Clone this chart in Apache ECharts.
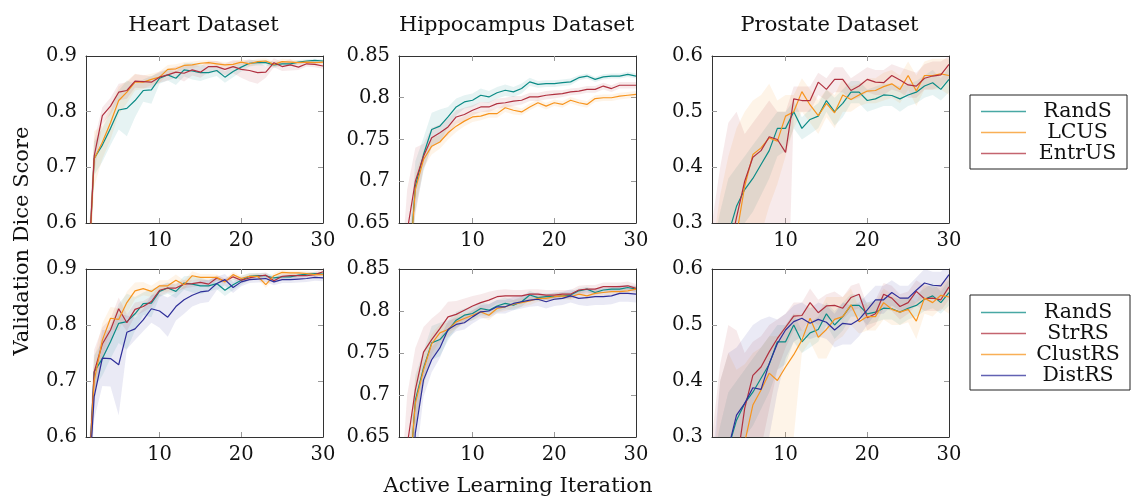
<!DOCTYPE html>
<html><head><meta charset="utf-8">
<script src="https://cdn.jsdelivr.net/npm/echarts@6/dist/echarts.min.js"></script>
<style>html,body{margin:0;padding:0;background:#fff}#c{width:1131px;height:499px}</style>
</head><body><div id="c"></div><script>
// ---------- data ----------
const ITER = [1,2,3,4,5,6,7,8,9,10,11,12,13,14,15,16,17,18,19,20,21,22,23,24,25,26,27,28,29,30];
const X_TICKS = [10, 20, 30];
const HEART_TICKS = [0.6, 0.7, 0.8, 0.9];
const HIPPO_TICKS = [0.65, 0.7, 0.75, 0.8, 0.85];
const PROST_TICKS = [0.3, 0.4, 0.5, 0.6];
const TITLES = ['Heart Dataset', 'Hippocampus Dataset', 'Prostate Dataset'];
const LEGEND_TOP = ['RandS', 'LCUS', 'EntrUS'];
const LEGEND_BOTTOM = ['RandS', 'StrRS', 'ClustRS', 'DistRS'];

// Heart
const heart_RandS = [0.43,0.716,0.74,0.77,0.803,0.806,0.82,0.838,0.839,0.86,0.866,0.86,0.875,0.873,0.87,0.87,0.874,0.862,0.872,0.88,0.887,0.888,0.888,0.884,0.886,0.886,0.889,0.891,0.892,0.891];
const heart_RandS_sd = [0.05,0.03,0.03,0.03,0.035,0.05,0.03,0.02,0.025,0.01,0.01,0.012,0.012,0.015,0.015,0.01,0.01,0.01,0.01,0.008,0.006,0.005,0.005,0.005,0.004,0.004,0.004,0.003,0.003,0.003];
const heart_LCUS = [0.42,0.715,0.745,0.78,0.82,0.835,0.853,0.853,0.858,0.862,0.876,0.877,0.883,0.884,0.887,0.888,0.886,0.884,0.885,0.889,0.886,0.89,0.891,0.885,0.89,0.889,0.888,0.889,0.888,0.889];
const heart_LCUS_sd = [0.05,0.05,0.03,0.03,0.025,0.02,0.015,0.012,0.01,0.01,0.008,0.008,0.006,0.006,0.005,0.005,0.005,0.005,0.005,0.005,0.005,0.005,0.005,0.005,0.005,0.005,0.004,0.004,0.004,0.004];
const heart_EntrUS = [0.43,0.72,0.793,0.81,0.835,0.838,0.855,0.854,0.853,0.862,0.866,0.871,0.869,0.875,0.871,0.881,0.881,0.876,0.881,0.876,0.874,0.87,0.871,0.888,0.881,0.884,0.88,0.886,0.885,0.882];
const heart_EntrUS_sd = [0.05,0.03,0.015,0.015,0.015,0.015,0.012,0.012,0.01,0.01,0.01,0.01,0.015,0.01,0.01,0.01,0.01,0.01,0.012,0.015,0.02,0.02,0.01,0.008,0.008,0.01,0.005,0.005,0.005,0.005];
const heart_StrRS = [0.43,0.716,0.766,0.791,0.829,0.804,0.828,0.833,0.842,0.862,0.866,0.866,0.873,0.874,0.876,0.873,0.884,0.878,0.886,0.88,0.884,0.887,0.889,0.879,0.887,0.888,0.888,0.888,0.89,0.895];
const heart_StrRS_sd = [0.05,0.04,0.03,0.02,0.02,0.015,0.012,0.01,0.01,0.01,0.008,0.008,0.008,0.006,0.006,0.006,0.005,0.005,0.005,0.005,0.005,0.005,0.005,0.005,0.005,0.005,0.005,0.005,0.005,0.005];
const heart_ClustRS = [0.42,0.70,0.773,0.812,0.81,0.84,0.861,0.865,0.86,0.87,0.87,0.88,0.872,0.888,0.885,0.885,0.885,0.877,0.89,0.883,0.887,0.887,0.872,0.888,0.894,0.893,0.893,0.892,0.89,0.89];
const heart_ClustRS_sd = [0.05,0.04,0.03,0.02,0.02,0.02,0.015,0.012,0.01,0.01,0.01,0.01,0.008,0.008,0.006,0.006,0.005,0.005,0.005,0.005,0.005,0.005,0.006,0.005,0.004,0.004,0.004,0.004,0.004,0.004];
const heart_DistRS = [0.43,0.672,0.741,0.74,0.729,0.787,0.793,0.809,0.829,0.825,0.814,0.833,0.845,0.853,0.859,0.861,0.874,0.881,0.867,0.877,0.881,0.882,0.883,0.877,0.881,0.881,0.882,0.883,0.885,0.884];
const heart_DistRS_sd = [0.05,0.04,0.05,0.05,0.09,0.03,0.02,0.02,0.025,0.03,0.035,0.025,0.025,0.02,0.02,0.02,0.012,0.01,0.01,0.008,0.006,0.006,0.006,0.006,0.006,0.006,0.006,0.006,0.006,0.006];

// Hippocampus
const hippo_RandS = [0.45,0.56,0.694,0.732,0.762,0.766,0.777,0.789,0.795,0.797,0.803,0.801,0.806,0.809,0.807,0.811,0.819,0.816,0.817,0.817,0.818,0.819,0.824,0.826,0.822,0.825,0.826,0.826,0.828,0.826];
const hippo_RandS_sd = [0.05,0.04,0.03,0.02,0.02,0.02,0.012,0.01,0.008,0.008,0.008,0.007,0.007,0.007,0.006,0.006,0.005,0.004,0.004,0.004,0.004,0.004,0.003,0.003,0.003,0.003,0.003,0.003,0.003,0.003];
const hippo_LCUS = [0.45,0.56,0.69,0.726,0.742,0.747,0.758,0.766,0.772,0.777,0.778,0.781,0.781,0.788,0.785,0.783,0.789,0.794,0.790,0.794,0.792,0.797,0.794,0.792,0.799,0.800,0.800,0.802,0.803,0.804];
const hippo_LCUS_sd = [0.04,0.03,0.02,0.01,0.01,0.008,0.008,0.007,0.006,0.006,0.005,0.005,0.005,0.005,0.005,0.004,0.004,0.004,0.004,0.004,0.004,0.004,0.004,0.004,0.004,0.004,0.004,0.004,0.004,0.004];
const hippo_EntrUS = [0.5,0.64,0.70,0.73,0.752,0.758,0.765,0.777,0.780,0.785,0.789,0.789,0.793,0.794,0.796,0.797,0.801,0.801,0.803,0.804,0.805,0.807,0.808,0.810,0.810,0.814,0.811,0.815,0.815,0.815];
const hippo_EntrUS_sd = [0.06,0.05,0.04,0.015,0.012,0.01,0.01,0.008,0.008,0.006,0.006,0.006,0.006,0.006,0.006,0.005,0.005,0.005,0.005,0.005,0.004,0.004,0.004,0.004,0.004,0.004,0.004,0.004,0.004,0.004];
const hippo_StrRS = [0.5,0.64,0.706,0.751,0.766,0.779,0.793,0.796,0.801,0.806,0.81,0.813,0.817,0.818,0.818,0.818,0.82,0.82,0.819,0.819,0.82,0.82,0.825,0.826,0.826,0.829,0.829,0.829,0.83,0.827];
const hippo_StrRS_sd = [0.06,0.06,0.05,0.03,0.025,0.02,0.018,0.016,0.014,0.012,0.01,0.01,0.008,0.008,0.007,0.007,0.006,0.006,0.006,0.006,0.005,0.005,0.005,0.005,0.005,0.005,0.005,0.005,0.005,0.005];
const hippo_ClustRS = [0.45,0.57,0.69,0.73,0.761,0.774,0.778,0.787,0.791,0.795,0.799,0.795,0.803,0.805,0.808,0.81,0.812,0.815,0.815,0.817,0.818,0.817,0.82,0.818,0.821,0.822,0.823,0.823,0.824,0.826];
const hippo_ClustRS_sd = [0.05,0.04,0.03,0.02,0.012,0.01,0.008,0.008,0.006,0.006,0.006,0.006,0.005,0.005,0.005,0.005,0.005,0.004,0.004,0.004,0.004,0.004,0.004,0.004,0.004,0.004,0.004,0.004,0.004,0.004];
const hippo_DistRS = [0.4,0.5,0.655,0.718,0.742,0.756,0.778,0.784,0.786,0.793,0.799,0.8,0.805,0.805,0.809,0.811,0.813,0.814,0.811,0.814,0.815,0.818,0.815,0.816,0.817,0.817,0.818,0.821,0.821,0.82];
const hippo_DistRS_sd = [0.05,0.05,0.04,0.02,0.015,0.012,0.01,0.008,0.008,0.008,0.008,0.008,0.008,0.008,0.008,0.008,0.008,0.008,0.008,0.008,0.008,0.008,0.008,0.01,0.01,0.01,0.01,0.01,0.01,0.01];

// Prostate (band given as lower / upper bounds)
const prost_RandS = [0.12,0.2,0.28,0.33,0.36,0.38,0.405,0.43,0.47,0.47,0.50,0.47,0.486,0.492,0.52,0.50,0.515,0.535,0.535,0.52,0.523,0.53,0.529,0.523,0.53,0.535,0.546,0.552,0.54,0.558];
const prost_RandS_lo = [0.0,0.1,0.2,0.27,0.3,0.32,0.35,0.38,0.42,0.43,0.47,0.45,0.46,0.47,0.5,0.475,0.49,0.515,0.515,0.5,0.505,0.51,0.51,0.5,0.51,0.515,0.525,0.53,0.52,0.535];
const prost_RandS_hi = [0.25,0.32,0.38,0.4,0.42,0.44,0.46,0.48,0.5,0.5,0.52,0.49,0.505,0.515,0.54,0.525,0.54,0.555,0.555,0.54,0.545,0.55,0.55,0.545,0.55,0.555,0.565,0.575,0.56,0.58];
const prost_LCUS = [0.1,0.17,0.22,0.278,0.366,0.423,0.435,0.453,0.447,0.492,0.50,0.536,0.512,0.493,0.515,0.498,0.53,0.522,0.53,0.537,0.538,0.545,0.55,0.54,0.565,0.537,0.565,0.565,0.568,0.565];
const prost_LCUS_lo = [0.0,0.0,0.05,0.1,0.15,0.2,0.28,0.33,0.37,0.42,0.47,0.5,0.48,0.46,0.49,0.47,0.5,0.5,0.51,0.515,0.515,0.52,0.525,0.515,0.54,0.51,0.54,0.54,0.54,0.53];
const prost_LCUS_hi = [0.25,0.35,0.42,0.47,0.5,0.52,0.53,0.55,0.52,0.53,0.53,0.56,0.54,0.52,0.54,0.53,0.56,0.545,0.55,0.56,0.56,0.57,0.575,0.565,0.59,0.565,0.59,0.595,0.595,0.595];
const prost_EntrUS = [0.1,0.17,0.24,0.31,0.375,0.418,0.43,0.455,0.45,0.427,0.523,0.52,0.52,0.553,0.54,0.558,0.558,0.538,0.546,0.558,0.553,0.552,0.565,0.557,0.548,0.546,0.56,0.564,0.566,0.585];
const prost_EntrUS_lo = [0.0,0.0,0.0,0.05,0.1,0.15,0.15,0.15,0.15,0.0,0.5,0.5,0.5,0.53,0.52,0.535,0.535,0.52,0.525,0.535,0.53,0.53,0.54,0.535,0.525,0.525,0.54,0.54,0.545,0.56];
const prost_EntrUS_hi = [0.3,0.4,0.48,0.5,0.46,0.48,0.5,0.52,0.5,0.5,0.545,0.545,0.545,0.57,0.56,0.58,0.58,0.56,0.57,0.58,0.575,0.575,0.585,0.58,0.575,0.57,0.585,0.59,0.59,0.6];
const prost_StrRS = [0.08,0.14,0.2,0.249,0.351,0.41,0.425,0.452,0.476,0.496,0.516,0.517,0.54,0.522,0.534,0.535,0.53,0.549,0.555,0.513,0.52,0.555,0.548,0.533,0.54,0.56,0.547,0.548,0.545,0.568];
const prost_StrRS_lo = [0.0,0.0,0.05,0.1,0.2,0.25,0.28,0.35,0.42,0.46,0.49,0.49,0.51,0.5,0.51,0.51,0.51,0.525,0.53,0.49,0.5,0.53,0.525,0.51,0.52,0.535,0.525,0.525,0.525,0.545];
const prost_StrRS_hi = [0.3,0.43,0.5,0.49,0.45,0.47,0.48,0.5,0.51,0.52,0.54,0.54,0.565,0.545,0.555,0.56,0.55,0.57,0.575,0.535,0.545,0.575,0.57,0.555,0.56,0.58,0.57,0.57,0.565,0.59];
const prost_ClustRS = [0.05,0.1,0.16,0.22,0.29,0.357,0.384,0.414,0.401,0.425,0.447,0.473,0.512,0.478,0.492,0.51,0.515,0.536,0.506,0.515,0.515,0.54,0.528,0.523,0.528,0.507,0.548,0.54,0.553,0.55];
const prost_ClustRS_lo = [0.0,0.0,0.0,0.0,0.05,0.1,0.1,0.15,0.2,0.25,0.3,0.45,0.47,0.44,0.44,0.47,0.48,0.5,0.485,0.49,0.49,0.51,0.5,0.5,0.505,0.475,0.52,0.515,0.53,0.52];
const prost_ClustRS_hi = [0.2,0.4,0.45,0.42,0.43,0.45,0.46,0.48,0.48,0.5,0.52,0.52,0.54,0.52,0.55,0.55,0.55,0.565,0.53,0.54,0.54,0.565,0.555,0.55,0.55,0.54,0.575,0.565,0.575,0.58];
const prost_DistRS = [0.12,0.2,0.28,0.339,0.36,0.388,0.385,0.431,0.467,0.491,0.506,0.512,0.503,0.51,0.505,0.491,0.503,0.501,0.51,0.527,0.545,0.545,0.558,0.548,0.548,0.562,0.575,0.571,0.57,0.59];
const prost_DistRS_lo = [0.0,0.05,0.1,0.18,0.2,0.22,0.25,0.3,0.38,0.44,0.47,0.48,0.475,0.48,0.475,0.46,0.465,0.465,0.48,0.5,0.52,0.52,0.535,0.525,0.525,0.54,0.55,0.55,0.545,0.565];
const prost_DistRS_hi = [0.25,0.4,0.45,0.46,0.48,0.5,0.51,0.515,0.51,0.52,0.535,0.54,0.53,0.54,0.535,0.52,0.54,0.535,0.54,0.555,0.57,0.57,0.58,0.57,0.57,0.585,0.6,0.595,0.595,0.61];

// ---------- styling / layout ----------
const FONT = 'DejaVu Serif';
const TXT = '#111';
const COLOR = {RandS:'#0b8b86', LCUS:'#f7941d', EntrUS:'#b0303f', StrRS:'#b0303f', ClustRS:'#f7941d', DistRS:'#2e2e99'};
const GRID_LEFT = [86, 399, 712];
const GRID_TOP = [56, 269];
const GRID_H = [167, 168];
const GRID_W = 237;

const panels = [
  {row:0,col:0,min:0.6,max:0.9,ticks:HEART_TICKS,series:[
    {name:'RandS',mean:heart_RandS,sd:heart_RandS_sd},
    {name:'LCUS',mean:heart_LCUS,sd:heart_LCUS_sd},
    {name:'EntrUS',mean:heart_EntrUS,sd:heart_EntrUS_sd}]},
  {row:0,col:1,min:0.65,max:0.85,ticks:HIPPO_TICKS,series:[
    {name:'RandS',mean:hippo_RandS,sd:hippo_RandS_sd},
    {name:'LCUS',mean:hippo_LCUS,sd:hippo_LCUS_sd},
    {name:'EntrUS',mean:hippo_EntrUS,sd:hippo_EntrUS_sd}]},
  {row:0,col:2,min:0.3,max:0.6,ticks:PROST_TICKS,series:[
    {name:'RandS',mean:prost_RandS,lo:prost_RandS_lo,hi:prost_RandS_hi},
    {name:'LCUS',mean:prost_LCUS,lo:prost_LCUS_lo,hi:prost_LCUS_hi},
    {name:'EntrUS',mean:prost_EntrUS,lo:prost_EntrUS_lo,hi:prost_EntrUS_hi}]},
  {row:1,col:0,min:0.6,max:0.9,ticks:HEART_TICKS,series:[
    {name:'RandS',mean:heart_RandS,sd:heart_RandS_sd},
    {name:'StrRS',mean:heart_StrRS,sd:heart_StrRS_sd},
    {name:'ClustRS',mean:heart_ClustRS,sd:heart_ClustRS_sd},
    {name:'DistRS',mean:heart_DistRS,sd:heart_DistRS_sd}]},
  {row:1,col:1,min:0.65,max:0.85,ticks:HIPPO_TICKS,series:[
    {name:'RandS',mean:hippo_RandS,sd:hippo_RandS_sd},
    {name:'StrRS',mean:hippo_StrRS,sd:hippo_StrRS_sd},
    {name:'ClustRS',mean:hippo_ClustRS,sd:hippo_ClustRS_sd},
    {name:'DistRS',mean:hippo_DistRS,sd:hippo_DistRS_sd}]},
  {row:1,col:2,min:0.3,max:0.6,ticks:PROST_TICKS,series:[
    {name:'RandS',mean:prost_RandS,lo:prost_RandS_lo,hi:prost_RandS_hi},
    {name:'StrRS',mean:prost_StrRS,lo:prost_StrRS_lo,hi:prost_StrRS_hi},
    {name:'ClustRS',mean:prost_ClustRS,lo:prost_ClustRS_lo,hi:prost_ClustRS_hi},
    {name:'DistRS',mean:prost_DistRS,lo:prost_DistRS_lo,hi:prost_DistRS_hi}]}
];

const grid = [], xAxis = [], yAxis = [], series = [];
const lineCol = '#333', tickCol = '#9a9a9a';

function bandSeries(xi, yi, lo, hi, color) {
  return {
    type:'custom', name:'band', xAxisIndex:xi, yAxisIndex:yi, silent:true, z:1,
    data: ITER.map((x, j) => [x, lo[j], hi[j]]),
    encode:{x:0, y:[1,2]},
    renderItem: function (params, api) {
      if (params.dataIndexInside !== 0) return null;
      const n = params.dataInsideLength;
      const top = [], bot = [];
      for (let j = 0; j < n; j++) {
        const x = api.value(0, j);
        bot.push(api.coord([x, api.value(1, j)]));
        top.push(api.coord([x, api.value(2, j)]));
      }
      const pts = bot.concat(top.reverse());
      const cs = params.coordSys;
      return {
        type:'polygon', shape:{points:pts},
        style:{fill:color, opacity:0.1},
        clipPath:{type:'rect', shape:{x:cs.x, y:cs.y, width:cs.width, height:cs.height}}
      };
    }
  };
}

panels.forEach((p, i) => {
  grid.push({left:GRID_LEFT[p.col], top:GRID_TOP[p.row], width:GRID_W, height:GRID_H[p.row], containLabel:false});
  const innerX = X_TICKS.filter(v => v > 1 && v < 30);
  const innerY = p.ticks.filter(v => v > p.min + 1e-9 && v < p.max - 1e-9);
  xAxis.push({type:'value', gridIndex:i, min:1, max:30, position:'bottom',
    axisLine:{show:true, onZero:false, lineStyle:{color:lineCol, width:1}},
    axisTick:{show:true, inside:true, length:5, customValues:innerX, lineStyle:{color:tickCol}},
    axisLabel:{show:true, customValues:X_TICKS, margin:8, fontFamily:FONT, fontSize:19.5, color:TXT},
    splitLine:{show:false}});
  xAxis.push({type:'value', gridIndex:i, min:1, max:30, position:'top',
    axisLine:{show:true, onZero:false, lineStyle:{color:lineCol, width:1}},
    axisTick:{show:true, inside:true, length:5, customValues:innerX, lineStyle:{color:tickCol}},
    axisLabel:{show:false}, splitLine:{show:false}});
  yAxis.push({type:'value', gridIndex:i, min:p.min, max:p.max, position:'left',
    axisLine:{show:true, onZero:false, lineStyle:{color:lineCol, width:1}},
    axisTick:{show:true, inside:true, length:5, customValues:innerY, lineStyle:{color:tickCol}},
    axisLabel:{show:true, customValues:p.ticks, margin:9, fontFamily:FONT, fontSize:19.5, color:TXT,
      formatter: v => String(Math.round(v*100)/100)},
    splitLine:{show:false}});
  yAxis.push({type:'value', gridIndex:i, min:p.min, max:p.max, position:'right',
    axisLine:{show:true, onZero:false, lineStyle:{color:lineCol, width:1}},
    axisTick:{show:true, inside:true, length:5, customValues:innerY, lineStyle:{color:tickCol}},
    axisLabel:{show:false}, splitLine:{show:false}});
  const xi = 2*i, yi = 2*i;
  p.series.forEach((s) => {
    const c = COLOR[s.name];
    const lo = s.lo ? s.lo : s.mean.map((m, j) => m - s.sd[j]);
    const hi = s.hi ? s.hi : s.mean.map((m, j) => m + s.sd[j]);
    series.push(bandSeries(xi, yi, lo, hi, c));
  });
  p.series.forEach((s) => {
    const c = COLOR[s.name];
    series.push({type:'line', name:s.name, xAxisIndex:xi, yAxisIndex:yi,
      data: ITER.map((x, j) => [x, s.mean[j]]), symbol:'none', showSymbol:false,
      lineStyle:{color:c, width:1.2}, itemStyle:{color:c}, z:3, clip:true});
  });
});

const legendBase = {orient:'vertical', icon:'rect', itemWidth:45, itemHeight:1.5, itemGap:0,
  borderColor:'#222', borderWidth:1, selectedMode:false, backgroundColor:'#fff',
  itemStyle:{opacity:0.75},
  formatter: n => '{t|' + n + '}'};
const legend = [
  Object.assign({}, legendBase, {data:LEGEND_TOP, left:970, top:95, padding:[6,3,5,11],
    textStyle:{rich:{t:{width:93, align:'center', fontFamily:FONT, fontSize:20.5, lineHeight:26, color:TXT}}}}),
  Object.assign({}, legendBase, {data:LEGEND_BOTTOM, left:970, top:295, padding:[7,5,4,11],
    textStyle:{rich:{t:{width:94, align:'center', fontFamily:FONT, fontSize:20.5, lineHeight:26, color:TXT}}}})
];

const graphic = [];
TITLES.forEach((t, c) => {
  graphic.push({type:'text', x: GRID_LEFT[c] + GRID_W/2 - 1, y: 26, silent:true,
    style:{text:t, font:'21px "' + FONT + '"', fill:TXT, align:'center', verticalAlign:'middle'}});
});
graphic.push({type:'text', x:518, y:486.5, silent:true,
  style:{text:'Active Learning Iteration', font:'21px "' + FONT + '"', fill:TXT, align:'center', verticalAlign:'middle'}});
graphic.push({type:'text', x:22.5, y:241, rotation:Math.PI/2, silent:true,
  style:{text:'Validation Dice Score', font:'21px "' + FONT + '"', fill:TXT, align:'center', verticalAlign:'middle'}});

const chart = echarts.init(document.getElementById('c'), null, {renderer:'canvas'});
chart.setOption({animation:false, backgroundColor:'#fff', grid, xAxis, yAxis, series, legend, graphic, tooltip:{show:false}});
</script></body></html>
